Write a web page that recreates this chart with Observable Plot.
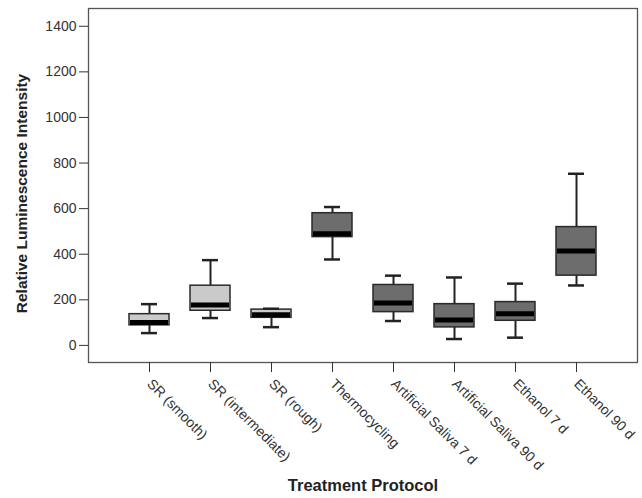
<!DOCTYPE html>
<html><head><meta charset="utf-8">
<script src="https://cdn.jsdelivr.net/npm/d3@7"></script>
<script src="https://cdn.jsdelivr.net/npm/@observablehq/plot@0.6"></script>
<style>body{margin:0;background:#fff}</style>
</head><body><div id="chart"></div>
<script>
const categories = ["SR (smooth)", "SR (intermediate)", "SR (rough)", "Thermocycling", "Artificial Saliva 7 d", "Artificial Saliva 90 d", "Ethanol 7 d", "Ethanol 90 d"];
const whiskerLow = [54, 120, 80, 377, 107, 28, 34, 263];
const q1 = [88, 152, 121, 475, 146, 79, 108, 306];
const median = [100, 177, 135, 490, 186, 111, 139, 414];
const q3 = [137, 262, 157, 580, 265, 181, 190, 519];
const whiskerHigh = [181, 374, 161, 607, 306, 298, 271, 753];
const shade = ["light", "light", "light", "dark", "dark", "dark", "dark", "dark"];
const yTicks = [0, 200, 400, 600, 800, 1000, 1200, 1400];
const yTitle = "Relative Luminescence Intensity";
const xTitle = "Treatment Protocol";

const data = categories.map((c, i) => ({c, lo: whiskerLow[i], q1: q1[i], med: median[i], q3: q3[i], hi: whiskerHigh[i], shade: shade[i]}));

const chart = Plot.plot({
  width: 642, height: 498,
  marginLeft: 88, marginRight: 5, marginTop: 8, marginBottom: 136,
  style: {fontFamily: '"Liberation Sans", Arial, sans-serif', fontSize: "14px", color: "#333", background: "#fff"},
  x: {domain: categories, paddingInner: 0.352, paddingOuter: 0.62, label: null},
  y: {domain: [-75, 1478], label: null},
  color: {domain: ["light", "dark"], range: ["#cacaca", "#6d6d6d"]},
  marks: [
    Plot.frame({stroke: "#555", strokeWidth: 1.3}),
    Plot.axisY({ticks: yTicks, tickFormat: d => String(d), tickSize: 9, tickPadding: 3, fontSize: 14, label: null}),
    Plot.axisX({tickRotate: 45, tickSize: 10, tickPadding: 9, fontSize: 14, label: null}),
    Plot.ruleX(data, {x: "c", y1: "lo", y2: "hi", stroke: "#222", strokeWidth: 2}),
    Plot.barY(data, {x: "c", y1: "q1", y2: "q3", fill: "shade", stroke: "#2a2a2a", strokeWidth: 1.5}),
    Plot.tickY(data, {x: "c", y: "med", stroke: "#000", strokeWidth: 5, insetLeft: 1, insetRight: 1}),
    Plot.tickY(data, {x: "c", y: "lo", stroke: "#222", strokeWidth: 2.5, insetLeft: 12, insetRight: 12}),
    Plot.tickY(data, {x: "c", y: "hi", stroke: "#222", strokeWidth: 2.5, insetLeft: 12, insetRight: 12}),
    Plot.text([yTitle], {text: d => d, frameAnchor: "left", textAnchor: "middle", dx: -66, dy: 8, rotate: -90, fontWeight: "bold", fontSize: 15.5, fill: "#222"}),
    Plot.text([xTitle], {text: d => d, frameAnchor: "bottom", textAnchor: "middle", dx: 0, dy: 128, fontWeight: "bold", fontSize: 16.5, fill: "#222"})
  ]
});
document.getElementById("chart").appendChild(chart);
</script>
</body></html>
